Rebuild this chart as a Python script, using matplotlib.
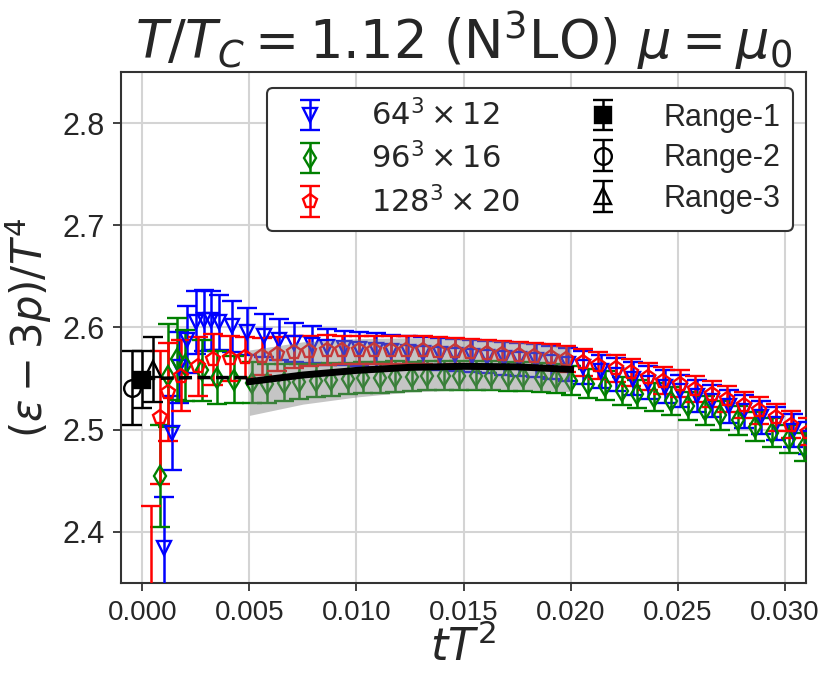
import matplotlib
matplotlib.use("Agg")
import matplotlib.pyplot as plt
from matplotlib import font_manager
import numpy as np

# fonts: Arial-like text, DejaVu mathtext
plt.rcParams['font.family'] = ['Liberation Sans', 'DejaVu Sans']
plt.rcParams['mathtext.fontset'] = 'dejavusans'
try:
    font_manager.findfont('Liberation Sans Narrow', fallback_to_default=False)
    xtick_family = 'Liberation Sans Narrow'
    xtick_size = 22
except Exception:
    xtick_family = 'Liberation Sans'
    xtick_size = 20

# ---- data ----
blue_x = [0.0010, 0.0014, 0.0017, 0.0021, 0.0025, 0.0029, 0.0032, 0.0036, 0.0042, 0.0049,
          0.0057, 0.0064, 0.0071, 0.0079, 0.0086, 0.0094, 0.0101, 0.0109, 0.0116, 0.0124,
          0.0131, 0.0139, 0.0146, 0.0154, 0.0161, 0.0169, 0.0176, 0.0184, 0.0191, 0.0199,
          0.0206, 0.0214, 0.0221, 0.0229, 0.0236, 0.0244, 0.0251, 0.0259, 0.0266, 0.0274,
          0.0281, 0.0289, 0.0296, 0.0304, 0.0311]
blue_y = [2.384, 2.497, 2.561, 2.588, 2.605, 2.607, 2.607, 2.605, 2.601, 2.596,
          2.592, 2.588, 2.585, 2.583, 2.581, 2.580, 2.579, 2.578, 2.577, 2.576,
          2.575, 2.574, 2.573, 2.572, 2.571, 2.570, 2.569, 2.568, 2.566, 2.564,
          2.561, 2.557, 2.554, 2.550, 2.546, 2.542, 2.538, 2.533, 2.528, 2.523,
          2.518, 2.512, 2.506, 2.499, 2.492]
blue_e = [0.050, 0.036, 0.035, 0.033, 0.031, 0.030, 0.029, 0.027, 0.025, 0.023,
          0.021, 0.020, 0.019, 0.018, 0.018, 0.017, 0.017, 0.017, 0.016, 0.016,
          0.016, 0.016, 0.016, 0.016, 0.016, 0.016, 0.016, 0.016, 0.016, 0.016,
          0.016, 0.016, 0.016, 0.016, 0.016, 0.016, 0.016, 0.016, 0.016, 0.016,
          0.016, 0.016, 0.016, 0.016, 0.016]

green_x = [0.0008, 0.0012, 0.0016, 0.0020, 0.0028, 0.0035, 0.0043, 0.0051, 0.0058, 0.0066,
           0.0073, 0.0081, 0.0088, 0.0096, 0.0103, 0.0111, 0.0118, 0.0126, 0.0133, 0.0141,
           0.0148, 0.0156, 0.0163, 0.0171, 0.0178, 0.0186, 0.0193, 0.0200, 0.0208, 0.0216,
           0.0224, 0.0231, 0.0239, 0.0247, 0.0255, 0.0263, 0.0270, 0.0278, 0.0286, 0.0294,
           0.0302, 0.0309]
green_y = [2.455, 2.553, 2.569, 2.563, 2.558, 2.551, 2.549, 2.546, 2.545, 2.546,
           2.547, 2.548, 2.549, 2.550, 2.551, 2.551, 2.552, 2.552, 2.553, 2.553,
           2.553, 2.553, 2.553, 2.552, 2.552, 2.551, 2.550, 2.548, 2.545, 2.543,
           2.538, 2.535, 2.532, 2.528, 2.523, 2.519, 2.514, 2.509, 2.503, 2.497,
           2.491, 2.483]
green_e = [0.050, 0.050, 0.040, 0.035, 0.030, 0.026, 0.023, 0.020, 0.019, 0.018,
           0.017, 0.016, 0.016, 0.015, 0.015, 0.015, 0.015, 0.014, 0.014, 0.014,
           0.014, 0.014, 0.014, 0.014, 0.014, 0.014, 0.014, 0.014, 0.014, 0.014,
           0.014, 0.014, 0.014, 0.014, 0.014, 0.014, 0.014, 0.014, 0.014, 0.014,
           0.014, 0.014]

red_x = [0.0004, 0.0008, 0.0012, 0.0018, 0.0026, 0.0033, 0.0041, 0.0048, 0.0056, 0.0063,
         0.0071, 0.0078, 0.0086, 0.0093, 0.0101, 0.0108, 0.0116, 0.0123, 0.0131, 0.0138,
         0.0146, 0.0153, 0.0161, 0.0168, 0.0176, 0.0183, 0.0191, 0.0198, 0.0206, 0.0213,
         0.0221, 0.0228, 0.0236, 0.0243, 0.0251, 0.0258, 0.0266, 0.0273, 0.0281, 0.0288,
         0.0296, 0.0303, 0.0311]
red_y = [2.335, 2.512, 2.537, 2.553, 2.562, 2.569, 2.570, 2.571, 2.572, 2.574,
         2.576, 2.577, 2.578, 2.578, 2.578, 2.578, 2.578, 2.578, 2.578, 2.577,
         2.577, 2.576, 2.575, 2.574, 2.573, 2.572, 2.571, 2.569, 2.566, 2.563,
         2.560, 2.556, 2.552, 2.548, 2.545, 2.540, 2.535, 2.530, 2.524, 2.519,
         2.512, 2.505, 2.498]
red_e = [0.090, 0.065, 0.048, 0.035, 0.029, 0.025, 0.022, 0.020, 0.018, 0.017,
         0.016, 0.015, 0.015, 0.014, 0.014, 0.014, 0.014, 0.014, 0.014, 0.014,
         0.013, 0.013, 0.013, 0.013, 0.013, 0.013, 0.013, 0.013, 0.013, 0.013,
         0.013, 0.013, 0.013, 0.013, 0.013, 0.013, 0.013, 0.013, 0.013, 0.013,
         0.013, 0.013, 0.013]

# continuum extrapolations at tT^2 -> 0
range_x = [0.0, -0.0005, 0.0005]
range_y = [2.549, 2.541, 2.559]
range_e = [0.028, 0.036, 0.032]

# fit curve and band
fit_x = [0.005, 0.0075, 0.010, 0.0125, 0.015, 0.0175, 0.020]
fit_y = [2.547, 2.5535, 2.558, 2.561, 2.562, 2.5615, 2.559]
band_lo = [2.514, 2.525, 2.532, 2.537, 2.539, 2.539, 2.537]
band_hi = [2.578, 2.586, 2.589, 2.590, 2.589, 2.586, 2.581]
dash_x = [0.0, 0.0025, 0.005]
dash_y = [2.550, 2.551, 2.551]

labels = [r'$64^3\times12$', r'$96^3\times16$', r'$128^3\times20$']
range_labels = ['Range-1', 'Range-2', 'Range-3']

fig = plt.figure(figsize=(8.31, 6.82), dpi=100)
ax = fig.add_axes([0.1456, 0.1452, 0.8244, 0.7492])

kw = dict(ls='none', ms=10.5, mfc='none', mew=1.7, elinewidth=1.8, capsize=7, capthick=1.8)
h_blue = ax.errorbar(blue_x, blue_y, yerr=blue_e, fmt='v', color='blue', label=labels[0], zorder=3, **kw)
h_green = ax.errorbar(green_x, green_y, yerr=green_e, fmt='d', color='green', label=labels[1], zorder=3, **kw)
h_red = ax.errorbar(red_x, red_y, yerr=red_e, fmt='p', color='red', label=labels[2], zorder=3, **kw)

ax.fill_between(fit_x, band_lo, band_hi, color='gray', alpha=0.45, lw=0, zorder=4)
ax.plot(fit_x, fit_y, color='black', lw=5, zorder=5)
ax.plot(dash_x, dash_y, color='black', lw=2.5, ls='--', zorder=5)

rkw = dict(ls='none', color='black', mew=1.7, elinewidth=1.8, capsize=7, capthick=1.8, zorder=6)
h_r1 = ax.errorbar(range_x[0], range_y[0], yerr=range_e[0], fmt='s', ms=12, mfc='black', label=range_labels[0], **rkw)
h_r2 = ax.errorbar(range_x[1], range_y[1], yerr=range_e[1], fmt='o', ms=12, mfc='none', label=range_labels[1], **rkw)
h_r3 = ax.errorbar(range_x[2], range_y[2], yerr=range_e[2], fmt='^', ms=12, mfc='none', label=range_labels[2], **rkw)

ax.set_xlim(-0.001, 0.031)
ax.set_ylim(2.35, 2.85)
ax.set_xticks([0.0, 0.005, 0.010, 0.015, 0.020, 0.025, 0.030])
ax.set_xticklabels(['0.000', '0.005', '0.010', '0.015', '0.020', '0.025', '0.030'])
ax.set_yticks([2.4, 2.5, 2.6, 2.7, 2.8])
ax.set_yticklabels(['2.4', '2.5', '2.6', '2.7', '2.8'])
for lab in ax.get_xticklabels():
    lab.set_family(xtick_family)
    lab.set_fontsize(xtick_size)
    lab.set_color('#262626')
for lab in ax.get_yticklabels():
    lab.set_fontsize(22)
    lab.set_color('#262626')

ax.grid(True, color='#d4d4d4', lw=1.5, zorder=0)
ax.set_axisbelow(True)
for s in ax.spines.values():
    s.set_color('#333333')
    s.set_linewidth(1.5)
ax.tick_params(direction='out', length=6, width=1.3, color='#333333', pad=6)

ax.set_xlabel(r'$tT^2$', fontsize=32, color='#262626', labelpad=0)
ax.set_ylabel(r'$(\varepsilon-3p)/T^4$', fontsize=30, color='#262626', labelpad=6)
ax.set_title(r'$T/T_C = 1.12$ (N$^3$LO) $\mu=\mu_0$', fontsize=38, color='#262626',
             family='DejaVu Sans', pad=6)

leg = ax.legend([h_blue, h_green, h_red, h_r1, h_r2, h_r3],
                labels + range_labels, ncol=2, loc='upper right',
                bbox_to_anchor=(0.981, 0.969), borderaxespad=0, fontsize=22,
                frameon=True, fancybox=True, handlelength=2.0, handletextpad=1.0,
                columnspacing=1.7, labelspacing=0.35, borderpad=0.4)
leg.get_frame().set_edgecolor('#333333')
leg.get_frame().set_linewidth(1.5)
leg.get_frame().set_alpha(1.0)
for t in leg.get_texts():
    t.set_color('#262626')

fig.savefig('out.png', dpi=100)
